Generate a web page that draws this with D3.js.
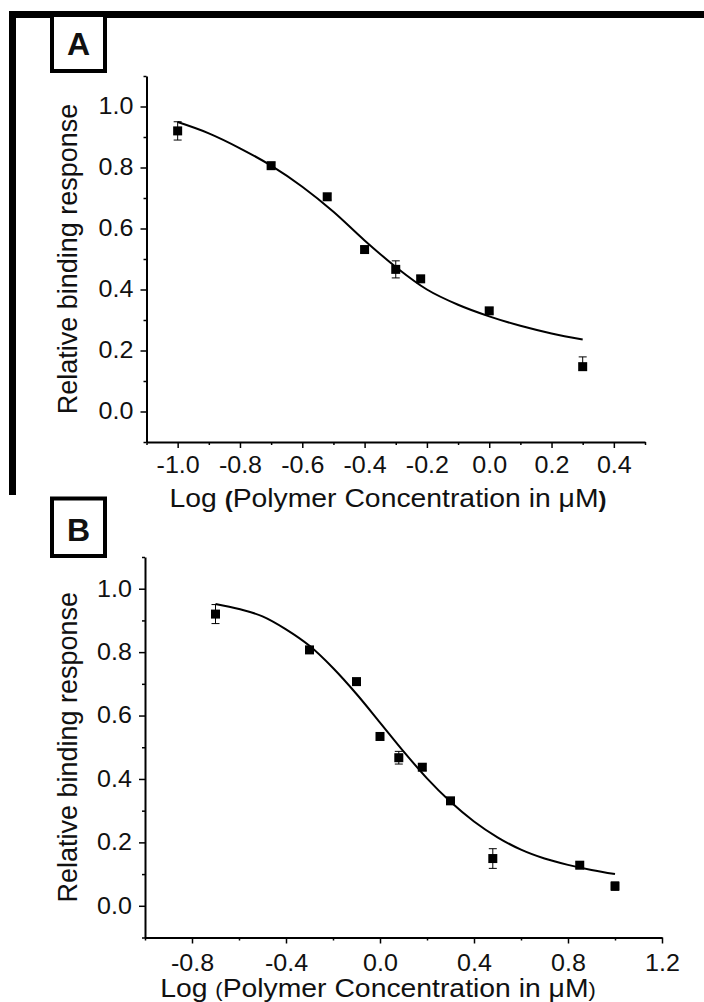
<!DOCTYPE html>
<html>
<head>
<meta charset="utf-8">
<script src="https://cdn.jsdelivr.net/npm/d3@7"></script>
<style>
  body { margin: 0; background: #fff; }
  text { font-family: "Liberation Sans", Arial, sans-serif; fill: #111; }
</style>
</head>
<body>
<div id="vis"></div>
<script>
// panel A data (log concentration vs relative binding response)
const aX = [-1.0, -0.7, -0.52, -0.4, -0.3, -0.22, 0.0, 0.3];
const aY = [0.92, 0.806, 0.704, 0.531, 0.466, 0.435, 0.330, 0.147];
const aErrUp = [0.03, 0.01, 0.01, 0.01, 0.028, 0.01, 0.01, 0.032];
const aErrDown = [0.03, 0.01, 0.01, 0.01, 0.028, 0.01, 0.01, 0.0];
// fitted curve A
const aCurveX = [-1.0, -0.9, -0.8, -0.7, -0.6, -0.5, -0.4, -0.3, -0.2, -0.1, 0.0, 0.1, 0.2, 0.3];
const aCurveY = [0.949, 0.912, 0.863, 0.806, 0.737, 0.655, 0.561, 0.474, 0.400, 0.350, 0.312, 0.281, 0.256, 0.236];

// panel B data
const bX = [-0.7, -0.3, -0.1, 0.0, 0.08, 0.18, 0.3, 0.48, 0.85, 1.0];
const bY = [0.92, 0.807, 0.707, 0.534, 0.467, 0.437, 0.331, 0.149, 0.128, 0.062];
const bErrUp = [0.03, 0.01, 0.01, 0.01, 0.02, 0.01, 0.01, 0.031, 0.01, 0.013];
const bErrDown = [0.03, 0.01, 0.01, 0.01, 0.02, 0.01, 0.01, 0.031, 0.01, 0.013];
const bCurveX = [-0.7, -0.6, -0.5, -0.4, -0.3, -0.2, -0.1, 0.0, 0.1, 0.2, 0.3, 0.4, 0.5, 0.6, 0.7, 0.8, 0.9, 1.0];
const bCurveY = [0.952, 0.936, 0.913, 0.872, 0.820, 0.750, 0.668, 0.578, 0.487, 0.402, 0.328, 0.266, 0.216, 0.177, 0.149, 0.129, 0.113, 0.100];

// ticks
const yMajor = [0.0, 0.2, 0.4, 0.6, 0.8, 1.0];
const yMinor = [-0.1, 0.1, 0.3, 0.5, 0.7, 0.9, 1.1];
const aXMajor = [-1.0, -0.8, -0.6, -0.4, -0.2, 0.0, 0.2, 0.4];
const aXMinor = [-1.1, -0.9, -0.7, -0.5, -0.3, -0.1, 0.1, 0.3, 0.5];
const bXMajor = [-0.8, -0.4, 0.0, 0.4, 0.8, 1.2];
const bXMinor = [-1.0, -0.6, -0.2, 0.2, 0.6, 1.0];

const yTitle = "Relative binding response";
const xTitle = ["Log ", "(", "Polymer Concentration in \u03bcM", ")"];

const W = 704, H = 1002;
const stretch = 1.09; // text in the picture is a bit wider than Arial

let svg = d3.select("#vis").append("svg")
  .attr("width", W)
  .attr("height", H)
  .style("background-color", "white");

// frame bars (top and left)
svg.append("rect").attr("x", 9).attr("y", 11).attr("width", W - 9).attr("height", 7).attr("fill", "#000");
svg.append("rect").attr("x", 9).attr("y", 11).attr("width", 7).attr("height", 484).attr("fill", "#000");

function panelLabel(txt, x, y, w, h, base) {
  svg.append("rect").attr("x", x).attr("y", y).attr("width", w).attr("height", h)
    .attr("fill", "white").attr("stroke", "#000").attr("stroke-width", 4);
  svg.append("text").attr("x", x + w / 2).attr("y", base)
    .attr("text-anchor", "middle").style("font-size", "32px").style("font-weight", "bold")
    .text(txt);
}

function drawPanel(opt) {
  let x = d3.scaleLinear().domain(opt.xDomain).range(opt.xRange);
  let y = d3.scaleLinear().domain([-0.1, 1.1]).range(opt.yRange);
  let g = svg.append("g");

  // minor ticks first
  g.append("g").attr("transform", `translate(0,${opt.yRange[0]})`)
    .call(d3.axisBottom(x).tickValues(opt.xMinor).tickSize(3).tickSizeOuter(0).tickFormat(""))
    .call(s => s.select(".domain").remove())
    .selectAll("line").attr("stroke-width", 1.5);
  g.append("g").attr("transform", `translate(${opt.xRange[0]},0)`)
    .call(d3.axisLeft(y).tickValues(yMinor).tickSize(3).tickSizeOuter(0).tickFormat(""))
    .call(s => s.select(".domain").remove())
    .selectAll("line").attr("stroke-width", 1.5);

  // x axis
  let xa = g.append("g").attr("transform", `translate(0,${opt.yRange[0]})`)
    .call(d3.axisBottom(x).tickValues(opt.xMajor).tickSize(6).tickSizeOuter(0)
      .tickPadding(opt.xPad).tickFormat(d => d.toFixed(1)));
  xa.select(".domain").attr("stroke-width", 2);
  xa.selectAll("line").attr("stroke-width", 1.5);
  xa.selectAll("text").style("font-size", "23px").attr("fill", "#111")
    .attr("transform", `scale(${stretch},1)`);

  // y axis
  let ya = g.append("g").attr("transform", `translate(${opt.xRange[0]},0)`)
    .call(d3.axisLeft(y).tickValues(yMajor).tickSize(6).tickSizeOuter(0)
      .tickPadding(6).tickFormat(d => d.toFixed(1)));
  ya.select(".domain").attr("stroke-width", 2);
  ya.selectAll("line").attr("stroke-width", 1.5);
  ya.selectAll("text").style("font-size", "23px").attr("fill", "#111")
    .attr("transform", `scale(${stretch},1)`);

  // axis titles
  g.append("text")
    .attr("transform", `translate(${opt.yTitleX},${(opt.yRange[0] + opt.yRange[1]) / 2}) rotate(-90)`)
    .attr("text-anchor", "middle").style("font-size", "27px")
    .text(yTitle);
  let t = g.append("text")
    .attr("transform", `translate(${opt.xTitleX},${opt.xTitleY}) scale(${stretch},1)`)
    .attr("text-anchor", "middle").style("font-size", "26px");
  t.append("tspan").text(xTitle[0]);
  t.append("tspan").style("font-weight", opt.parenBold ? "bold" : "normal")
    .style("font-size", opt.parenSize).text(xTitle[1]);
  t.append("tspan").text(xTitle[2]);
  t.append("tspan").style("font-weight", opt.parenBold ? "bold" : "normal")
    .style("font-size", opt.parenSize).text(xTitle[3]);

  // fitted curve
  let line = d3.line().x((d, i) => x(opt.cx[i])).y((d, i) => y(opt.cy[i])).curve(d3.curveMonotoneX);
  g.append("path").datum(opt.cx).attr("d", line)
    .attr("fill", "none").attr("stroke", "#000").attr("stroke-width", 2);

  // error bars
  let eb = g.append("g").selectAll("g").data(opt.px).join("g");
  eb.append("line")
    .attr("x1", (d) => x(d)).attr("x2", (d) => x(d))
    .attr("y1", (d, i) => y(opt.py[i] + opt.eu[i])).attr("y2", (d, i) => y(opt.py[i] - opt.ed[i]))
    .attr("stroke", "#000").attr("stroke-width", 1);
  eb.filter((d, i) => opt.eu[i] > 0).append("line")
    .attr("x1", (d) => x(d) - 4).attr("x2", (d) => x(d) + 4)
    .attr("y1", (d, i) => y(opt.py[i] + opt.eu[i])).attr("y2", (d, i) => y(opt.py[i] + opt.eu[i]))
    .attr("stroke", "#000").attr("stroke-width", 1);
  eb.filter((d, i) => opt.ed[i] > 0).append("line")
    .attr("x1", (d) => x(d) - 4).attr("x2", (d) => x(d) + 4)
    .attr("y1", (d, i) => y(opt.py[i] - opt.ed[i])).attr("y2", (d, i) => y(opt.py[i] - opt.ed[i]))
    .attr("stroke", "#000").attr("stroke-width", 1);

  // square markers
  g.append("g").selectAll("rect").data(opt.px).join("rect")
    .attr("x", (d) => x(d) - 4.5)
    .attr("y", (d, i) => y(opt.py[i]) - 4.5)
    .attr("width", 9).attr("height", 9)
    .attr("fill", "#000");
}

panelLabel("A", 52, 15, 53, 56, 55);
drawPanel({
  xDomain: [-1.1, 0.5], xRange: [146.5, 645], yRange: [442, 76],
  xMajor: aXMajor, xMinor: aXMinor, xPad: 9,
  yTitleX: 77, xTitleX: 388, xTitleY: 507, parenBold: true, parenSize: "22px",
  px: aX, py: aY, eu: aErrUp, ed: aErrDown, cx: aCurveX, cy: aCurveY
});

panelLabel("B", 52, 498.5, 53, 57.5, 541);
drawPanel({
  xDomain: [-1.0, 1.2], xRange: [145, 662], yRange: [937.5, 557],
  xMajor: bXMajor, xMinor: bXMinor, xPad: 11,
  yTitleX: 77, xTitleX: 378, xTitleY: 997, parenBold: false, parenSize: "20px",
  px: bX, py: bY, eu: bErrUp, ed: bErrDown, cx: bCurveX, cy: bCurveY
});
</script>
</body>
</html>
